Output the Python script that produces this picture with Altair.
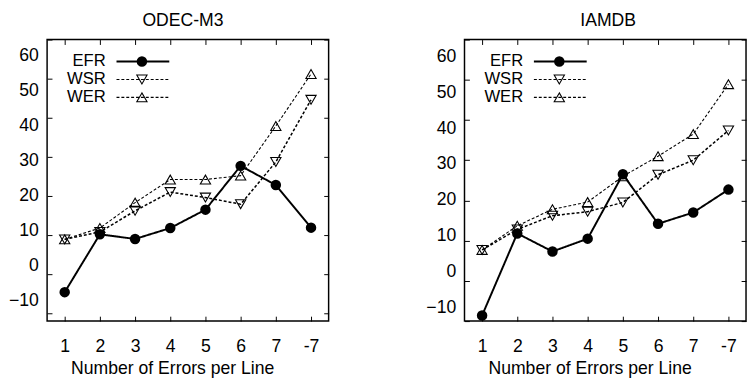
import altair as alt
import pandas as pd

FONT = "Liberation Sans"

categories = ["1", "2", "3", "4", "5", "6", "7", "-7"]
series = ["EFR", "WSR", "WER"]
tick_values = [60, 50, 40, 30, 20, 10, 0, -10]

odec_efr = [-4.6, 10.2, 9.0, 11.8, 16.5, 27.7, 22.8, 11.9]
odec_wsr = [8.9, 10.8, 16.2, 21.0, 19.6, 17.9, 28.7, 44.6]
odec_wer = [8.9, 11.8, 18.3, 24.2, 24.2, 25.2, 37.9, 51.2]

iam_efr = [-8.6, 11.8, 7.3, 10.5, 26.5, 14.2, 17.0, 22.7]
iam_wsr = [7.7, 12.8, 16.2, 17.2, 19.5, 26.4, 30.0, 37.4]
iam_wer = [7.7, 13.7, 17.8, 19.6, 26.0, 31.0, 36.5, 48.9]

dash = {"EFR": [1, 0], "WSR": [3, 2], "WER": [3, 2]}
width = {"EFR": 2, "WSR": 1.1, "WER": 1.1}
shape = {"EFR": "circle", "WSR": "triangle-down", "WER": "triangle-up"}

PLOT = 288


def panel(title, efr, wsr, wer, tick_domain, label_domain, title_dx):
    df = pd.DataFrame({
        "x": categories * 3,
        "i": list(range(len(categories))) * 3,
        "value": efr + wsr + wer,
        "series": [s for s in series for _ in categories],
    })
    xs = alt.Scale(type="point", domain=categories, padding=0.5)
    ys = alt.Scale(domain=tick_domain, nice=False, zero=False)

    bottom_axis = alt.Axis(orient="bottom", domain=False, grid=False, offset=-5,
                           tickSize=5, tickColor="black", labelAngle=0,
                           labelPadding=17, labelFontSize=18, labelColor="black",
                           labelFont=FONT,
                           title="Number of Errors per Line", titleFontSize=18,
                           titleFont=FONT, titleFontWeight="normal", titleColor="black",
                           titlePadding=5, titleX=128)
    top_axis = alt.Axis(orient="top", domain=False, grid=False, offset=-5,
                        tickSize=5, tickColor="black", labels=False, title=None)
    left_ticks = alt.Axis(orient="left", values=tick_values, domain=False, grid=False,
                          offset=-5, tickSize=5, tickColor="black", labels=False, title=None)
    right_ticks = alt.Axis(orient="right", values=tick_values, domain=False, grid=False,
                           offset=-5, tickSize=5, tickColor="black", labels=False, title=None)

    frame = alt.Chart(pd.DataFrame({"f": [0]})).mark_rect(
        fillOpacity=0, stroke="black", strokeWidth=1.5
    ).encode(x=alt.value(0), x2=alt.value(PLOT), y=alt.value(0), y2=alt.value(PLOT))

    lines = alt.Chart(df).mark_line(color="black").encode(
        x=alt.X("x:O", scale=xs, axis=bottom_axis),
        y=alt.Y("value:Q", scale=ys, axis=left_ticks),
        strokeDash=alt.StrokeDash("series:N", scale=alt.Scale(domain=series, range=[dash[s] for s in series]), legend=None),
        strokeWidth=alt.StrokeWidth("series:N", scale=alt.Scale(domain=series, range=[width[s] for s in series]), legend=None),
        detail="series:N",
        order="i:Q",
    )
    efr_pts = alt.Chart(df).transform_filter("datum.series == 'EFR'").mark_point(
        filled=True, color="black", opacity=1, size=115, shape="circle"
    ).encode(
        x=alt.X("x:O", scale=xs, axis=top_axis),
        y=alt.Y("value:Q", scale=ys, axis=right_ticks),
    )
    open_pts = alt.Chart(df).transform_filter("datum.series != 'EFR'").mark_point(
        filled=False, color="black", opacity=1, size=110, strokeWidth=1.1
    ).encode(
        x=alt.X("x:O", scale=xs, axis=None),
        y=alt.Y("value:Q", scale=ys, axis=None),
        shape=alt.Shape("series:N", scale=alt.Scale(domain=series, range=[shape[s] for s in series]), legend=None),
    )

    legend_layers = []
    for k, name in enumerate(series):
        yy = 22.5 + 18.3 * k
        ld = pd.DataFrame({"series": [name]})
        legend_layers.append(alt.Chart(ld).mark_text(
            align="right", baseline="middle", fontSize=17, font=FONT, color="black"
        ).encode(x=alt.value(60), y=alt.value(yy), text="series:N"))
        legend_layers.append(alt.Chart(ld).mark_rule(
            color="black", strokeWidth=width[name], strokeDash=dash[name]
        ).encode(x=alt.value(71), x2=alt.value(125), y=alt.value(yy)))
        legend_layers.append(alt.Chart(ld).mark_point(
            shape=shape[name], filled=(name == "EFR"), color="black", opacity=1,
            size=115 if name == "EFR" else 110, strokeWidth=1.1
        ).encode(x=alt.value(97), y=alt.value(yy)))

    inner = alt.layer(frame, lines, open_pts, efr_pts, *legend_layers).resolve_axis(
        x="independent", y="independent")

    label_axis = alt.Axis(orient="left", values=tick_values, ticks=False, domain=False,
                          grid=False, labelPadding=9, labelFontSize=18, labelColor="black",
                          labelFont=FONT, title=None, minExtent=38)
    labels = alt.Chart(pd.DataFrame({"v": tick_values})).mark_point(opacity=0).encode(
        y=alt.Y("v:Q", scale=alt.Scale(domain=label_domain, nice=False, zero=False), axis=label_axis)
    )

    return alt.layer(inner, labels).resolve_scale(y="independent").properties(
        width=PLOT, height=PLOT,
        title=alt.TitleParams(title, fontSize=18, font=FONT, fontWeight="normal",
                              color="black", offset=9, dx=title_dx),
    )


left = panel("ODEC-M3", odec_efr, odec_wsr, odec_wer, [-12, 60], [-16.0, 64.6], -5)
right = panel("IAMDB", iam_efr, iam_wsr, iam_wer, [-10, 60], [-13.75, 64.7], 3)

chart = alt.hconcat(left, right, spacing=98).properties(
    padding=0, background="white"
).configure_view(
    stroke=None
)

chart.save("out.html", embed_options={"renderer": "svg", "actions": False})
